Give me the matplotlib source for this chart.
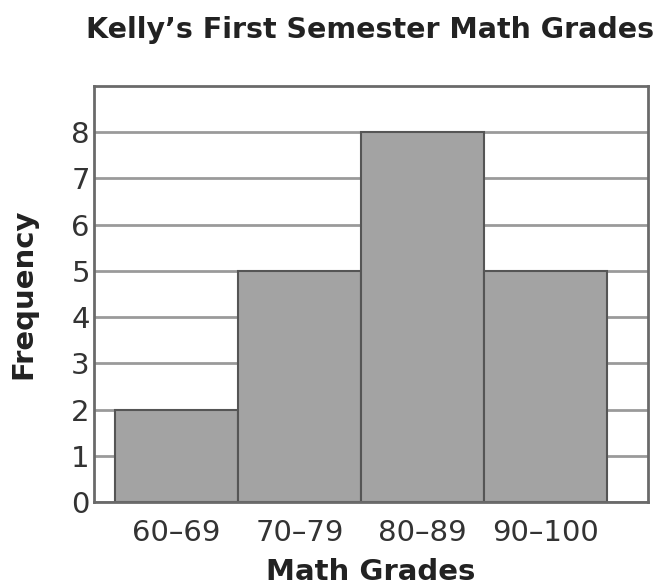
import matplotlib
matplotlib.use("Agg")
from matplotlib import pyplot as plt

grade_ranges = ["60\u201369", "70\u201379", "80\u201389", "90\u2013100"]
frequencies = [2, 5, 8, 5]
y_ticks = [0, 1, 2, 3, 4, 5, 6, 7, 8]

fig = plt.figure(figsize=(6.72, 5.88), dpi=100)
ax = fig.add_axes([94 / 672, 1 - 502 / 588, 554 / 672, 416 / 588])

positions = list(range(len(grade_ranges)))
ax.bar(positions, frequencies, width=1.0, color="#a3a3a3", edgecolor="#555555",
       linewidth=1.5, zorder=3)

ax.set_xlim(-0.67, 3.83)
ax.set_ylim(0, 9)
ax.set_yticks(y_ticks)
ax.set_xticks(positions)
ax.set_xticklabels(grade_ranges)
ax.tick_params(axis="both", length=0, labelsize=21, labelcolor="#333333")
ax.tick_params(axis="x", pad=12)
ax.tick_params(axis="y", pad=3)
ax.grid(axis="y", color="#9a9a9a", linewidth=2, zorder=1)
for spine in ax.spines.values():
    spine.set_color("#6a6a6a")
    spine.set_linewidth(2)
    spine.set_zorder(4)

ax.set_xlabel("Math Grades", fontsize=21, fontweight="bold", color="#222222", labelpad=8)
ax.set_ylabel("Frequency", fontsize=21, fontweight="bold", color="#222222", labelpad=24)
fig.text(370 / 672, 1 - 30 / 588, "Kelly\u2019s First Semester Math Grades", ha="center",
         va="center", fontsize=20.5, fontweight="bold", color="#222222")

fig.savefig("out.png", dpi=100)
